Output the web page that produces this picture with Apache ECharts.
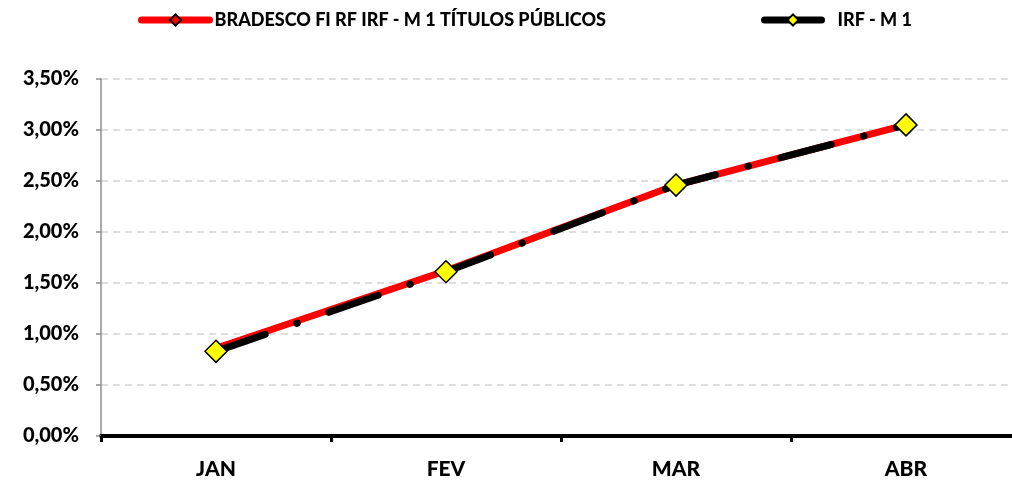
<!DOCTYPE html>
<html>
<head>
<meta charset="utf-8">
<script src="https://cdn.jsdelivr.net/npm/echarts@6/dist/echarts.min.js"></script>
<style>
html,body{margin:0;padding:0;background:#fff;}
#chart{width:1012px;height:480px;}
</style>
</head>
<body>
<div id="chart"></div>
<script>
var categories = ['JAN', 'FEV', 'MAR', 'ABR'];
var fundName = 'BRADESCO FI RF IRF - M 1 TÍTULOS PÚBLICOS';
var benchName = 'IRF - M 1';
var fundValues = [0.86, 1.62, 2.46, 3.05];
var benchValues = [0.83, 1.61, 2.46, 3.05];
var yTicks = [0, 0.5, 1, 1.5, 2, 2.5, 3, 3.5];

var FONT = 'Lato, "Open Sans", sans-serif';
var WEIGHT = 900;
var legendText = {fontFamily: FONT, fontWeight: WEIGHT, fontSize: 18, color: '#000'};
var chart = echarts.init(document.getElementById('chart'), null, {renderer: 'canvas'});
chart.setOption({
  animation: false,
  backgroundColor: '#ffffff',
  legend: [
    {
      top: 6,
      left: 133,
      itemWidth: 68,
      itemHeight: 14,
      lineStyle: {width: 7, cap: 'round'},
      textStyle: legendText,
      data: [{name: fundName}]
    },
    {
      top: 6,
      left: 756,
      itemWidth: 57,
      itemHeight: 14,
      lineStyle: {type: 'solid', width: 7, cap: 'round'},
      textStyle: Object.assign({}, legendText, {padding: [0, 0, 0, 11]}),
      data: [{name: benchName}]
    }
  ],
  grid: {left: 101, right: -9, top: 79, bottom: 44, containLabel: false, outerBoundsMode: 'none'},
  xAxis: {
    type: 'category',
    data: categories,
    boundaryGap: true,
    axisLine: {lineStyle: {color: '#000', width: 4}},
    axisTick: {show: true, length: 6, lineStyle: {color: '#000', width: 3}},
    axisLabel: {margin: 23, fontFamily: FONT, fontWeight: WEIGHT, fontSize: 21, color: '#000'},
    splitLine: {show: false}
  },
  yAxis: {
    type: 'value',
    min: yTicks[0],
    max: yTicks[yTicks.length - 1],
    interval: 0.5,
    axisLine: {show: true, lineStyle: {color: '#8c8c8c', width: 1.5}},
    axisTick: {show: true, length: 5, lineStyle: {color: '#8c8c8c', width: 1.5}},
    axisLabel: {
      margin: 22, fontFamily: FONT, fontWeight: WEIGHT, fontSize: 20, color: '#000',
      formatter: function (v) { return v.toFixed(2).replace('.', ',') + '%'; }
    },
    splitLine: {show: true, lineStyle: {color: '#d4d4d4', width: 1.5, type: [7, 5]}}
  },
  series: [
    {
      name: fundName,
      type: 'line',
      data: fundValues,
      symbol: 'diamond',
      symbolSize: 9,
      itemStyle: {color: '#ff0000', borderColor: '#000', borderWidth: 1.5},
      lineStyle: {color: '#ff0000', width: 7, cap: 'round', join: 'round'},
      z: 2
    },
    {
      name: benchName,
      type: 'line',
      data: benchValues,
      symbol: 'diamond',
      symbolSize: 22,
      itemStyle: {color: '#ffff00', borderColor: '#000', borderWidth: 1.5},
      lineStyle: {color: '#000', width: 7, type: [52, 33.5, 0.5, 33.5], cap: 'round', join: 'round'},
      z: 3
    }
  ]
});
</script>
</body>
</html>
